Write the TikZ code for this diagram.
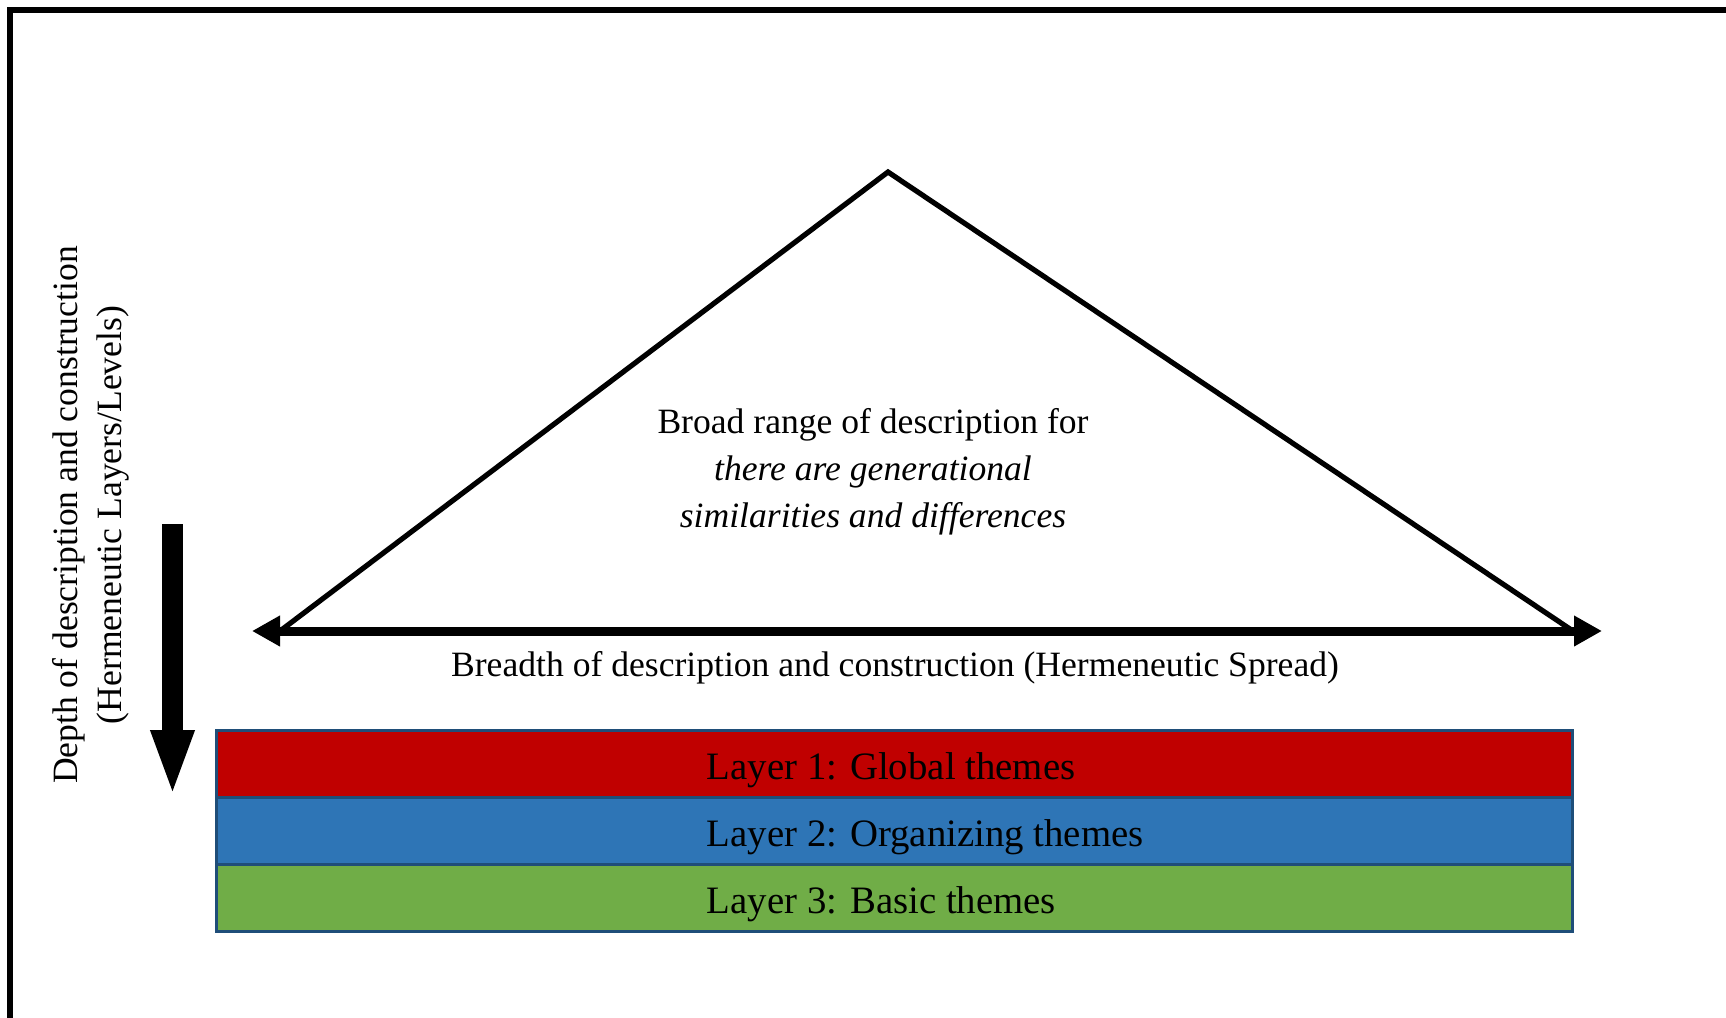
\documentclass[tikz,border=0pt]{standalone}
\usepackage{fontspec}
\setmainfont{Liberation Serif}
\usetikzlibrary{arrows.meta,positioning}

\definecolor{layerline}{RGB}{31,78,121}
\definecolor{globalred}{RGB}{192,0,0}
\definecolor{organblue}{RGB}{46,117,182}
\definecolor{basicgreen}{RGB}{112,173,71}

\begin{document}
\begin{tikzpicture}[x=0.5pt,y=-0.5pt,
    every node/.style={inner sep=0pt},
    txt/.style={font=\fontsize{17.8}{23.5}\selectfont,align=center},
    layer/.style={rectangle,draw=layerline,line width=1.5pt,minimum width=678pt,minimum height=33.5pt},
    laytxt/.style={font=\fontsize{19.4}{23}\selectfont,yshift=-3pt}]
  \useasboundingbox (0,0) rectangle (1726,1018);
  \draw[line width=2.6pt] (10,1040) -- (10,10) -- (1750,10);

  % the triangle and the breadth arrow
  \coordinate (apex) at (888,172);
  \coordinate (baseL) at (280,631);
  \coordinate (baseR) at (1573,631);
  \coordinate (tipL) at (252,631);
  \coordinate (tipR) at (1602,631);
  \draw[line width=2.6pt] (baseL) -- (apex) -- (baseR);
  \draw[{Triangle[length=14pt,width=14.5pt]}-{Triangle[length=14pt,width=14.5pt]},line width=4.5pt] (tipL) -- (tipR);
  \node[txt] (range) at (873,472) {Broad range of description for\\ \textit{there are generational}\\ \textit{similarities and differences}};
  \node[txt] (breadth) at (895,668) {Breadth of description and construction (Hermeneutic Spread)};

  % depth arrow
  \coordinate (dtop) at (172.5,524);
  \coordinate (dtip) at (172.5,797);
  \draw[-{Triangle[length=33.5pt,width=19.5pt]},line width=10.5pt] (dtop) -- (dtip);
  \node[txt,font=\fontsize{17.8}{22}\selectfont,rotate=90] (depth) at (91,515) {Depth of description and construction\\ (Hermeneutic Layers/Levels)};

  % layers
  \node[layer,fill=globalred] (l1) at (894,764) {};
  \node[layer,fill=organblue] (l2) at (894,831) {};
  \node[layer,fill=basicgreen] (l3) at (894,898) {};
  \node[laytxt,right=246pt of l1.west] (t1) {Layer 1: Global themes};
  \node[laytxt,right=246pt of l2.west] (t2) {Layer 2: Organizing themes};
  \node[laytxt,right=246pt of l3.west] (t3) {Layer 3: Basic themes};
\end{tikzpicture}
\end{document}
